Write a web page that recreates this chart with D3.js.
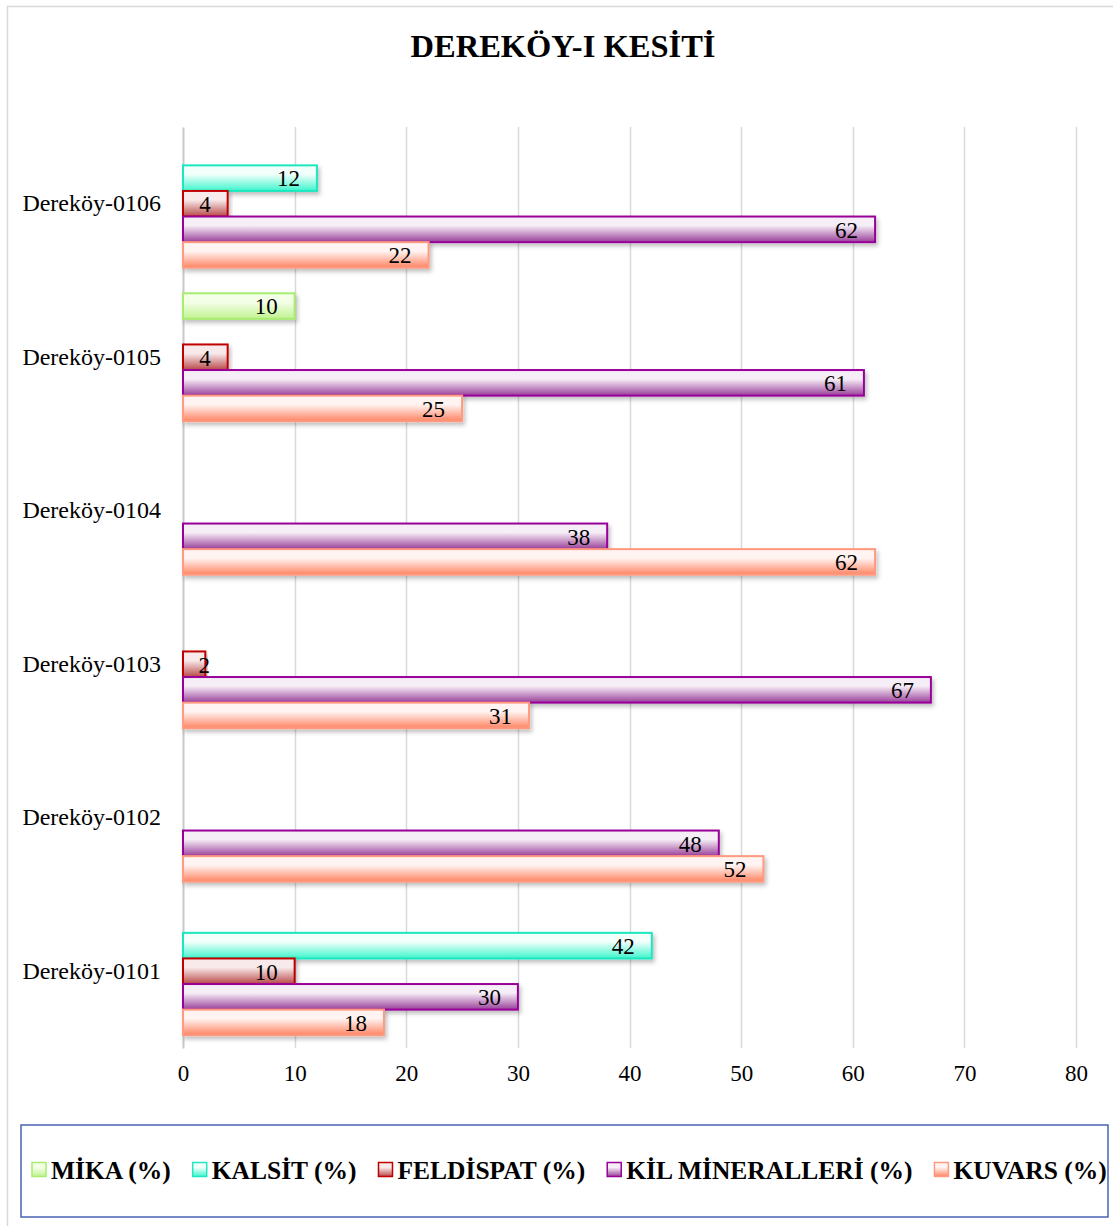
<!DOCTYPE html>
<html>
<head>
<meta charset="utf-8">
<script src="https://cdn.jsdelivr.net/npm/d3@7"></script>
<style>
  body { margin: 0; background: #fff; }
  text { font-family: "Liberation Serif", "Times New Roman", serif; }
</style>
</head>
<body>
<svg id="chart" width="1113" height="1226"></svg>
<script>
const categories = ["Dereköy-0106", "Dereköy-0105", "Dereköy-0104", "Dereköy-0103", "Dereköy-0102", "Dereköy-0101"];
const seriesNames = ["MİKA (%)", "KALSİT (%)", "FELDİSPAT (%)", "KİL MİNERALLERİ (%)", "KUVARS (%)"];
const mika = [null, 10, null, null, null, null];
const kalsit = [12, null, null, null, null, 42];
const feldispat = [4, 4, null, 2, null, 10];
const kil = [62, 61, 38, 67, 48, 30];
const kuvars = [22, 25, 62, 31, 52, 18];
const xTicks = [0, 10, 20, 30, 40, 50, 60, 70, 80];

const seriesValues = [mika, kalsit, feldispat, kil, kuvars];
const seriesColors = [
    { top: "#f4ffe8", bottom: "#bff28f", stroke: "#a8ec70" },
    { top: "#f2fffb", bottom: "#3cf5cc", stroke: "#1ee8c0" },
    { top: "#f8eaea", bottom: "#b94848", stroke: "#c00000" },
    { top: "#f6eef6", bottom: "#9a3f9a", stroke: "#990099" },
    { top: "#fff4f1", bottom: "#ff8463", stroke: "#ff9a80" }
];

const svg = d3.select("#chart");
const defs = svg.append("defs");

seriesColors.forEach((c, i) => {
    const g = defs.append("linearGradient")
        .attr("id", "grad" + i)
        .attr("x1", 0).attr("y1", 0).attr("x2", 0).attr("y2", 1);
    g.append("stop").attr("offset", "0%").attr("stop-color", c.top);
    g.append("stop").attr("offset", "35%").attr("stop-color", c.top);
    g.append("stop").attr("offset", "100%").attr("stop-color", c.bottom);
});

const shadow = defs.append("filter").attr("id", "shadow")
    .attr("x", "-5%").attr("y", "-20%").attr("width", "115%").attr("height", "160%");
shadow.append("feDropShadow")
    .attr("dx", 2).attr("dy", 3).attr("stdDeviation", 2)
    .attr("flood-color", "#000").attr("flood-opacity", 0.25);

// outer chart frame
svg.append("rect")
    .attr("x", 7.5).attr("y", 6.5)
    .attr("width", 1130).attr("height", 1240)
    .attr("fill", "#fff")
    .attr("stroke", "#d9d9d9")
    .attr("stroke-width", 1.5);

svg.append("text")
    .attr("x", 563)
    .attr("y", 57)
    .attr("text-anchor", "middle")
    .attr("font-size", 32.5)
    .attr("font-weight", "bold")
    .text("DEREKÖY-I KESİTİ");

const plotTop = 127, plotBottom = 1048;

const xScale = d3.scaleLinear().domain([0, 80]).range([183, 1076]);

const yScale = d3.scaleBand()
    .domain(categories)
    .range([plotTop, plotBottom])
    .padding(0);

const ySub = d3.scaleBand()
    .domain(seriesNames)
    .range([0, yScale.bandwidth()])
    .paddingInner(0)
    .paddingOuter(0.5);

// gridlines
svg.append("g")
    .selectAll("line")
    .data(xTicks.slice(1))
    .enter()
    .append("line")
    .attr("x1", d => Math.round(xScale(d)) + 0.5)
    .attr("x2", d => Math.round(xScale(d)) + 0.5)
    .attr("y1", plotTop)
    .attr("y2", plotBottom)
    .attr("stroke", "#d9d9d9")
    .attr("stroke-width", 1.5);

// x axis tick labels
const xAxis = svg.append("g")
    .attr("transform", `translate(0,${plotBottom + 9})`)
    .call(d3.axisBottom(xScale).tickValues(xTicks).tickSize(0).tickPadding(8));
xAxis.select(".domain").remove();
xAxis.selectAll("text")
    .attr("font-family", "Liberation Serif, serif")
    .attr("font-size", 23)
    .attr("fill", "#000");

// category labels
const yAxis = svg.append("g")
    .attr("transform", `translate(${xScale(0)},0)`)
    .call(d3.axisLeft(yScale).tickSize(0).tickPadding(22));
yAxis.select(".domain")
    .attr("stroke", "#c8c8c8")
    .attr("stroke-width", 2);
yAxis.selectAll("text")
    .attr("font-family", "Liberation Serif, serif")
    .attr("font-size", 24)
    .attr("fill", "#000");

// bars
const barData = [];
seriesValues.forEach((vals, si) => {
    vals.forEach((v, ci) => {
        if (v !== null) barData.push({ series: si, cat: categories[ci], value: v });
    });
});

const bars = svg.append("g");
bars.selectAll("rect")
    .data(barData)
    .enter()
    .append("rect")
    .attr("x", xScale(0))
    .attr("y", d => yScale(d.cat) + ySub(seriesNames[d.series]))
    .attr("width", d => xScale(d.value) - xScale(0))
    .attr("height", ySub.bandwidth())
    .attr("fill", d => `url(#grad${d.series})`)
    .attr("stroke", d => seriesColors[d.series].stroke)
    .attr("stroke-width", 2)
    .attr("filter", "url(#shadow)");

bars.selectAll("text.label")
    .data(barData)
    .enter()
    .append("text")
    .attr("class", "label")
    .attr("x", d => Math.max(xScale(d.value) - 17, xScale(0) + 27))
    .attr("y", d => yScale(d.cat) + ySub(seriesNames[d.series]) + ySub.bandwidth() / 2)
    .attr("dy", "0.36em")
    .attr("text-anchor", "end")
    .attr("font-size", 23)
    .attr("fill", "#000")
    .text(d => d.value);

// legend
svg.append("rect")
    .attr("x", 21).attr("y", 1125)
    .attr("width", 1087).attr("height", 92)
    .attr("fill", "#fff")
    .attr("stroke", "#4a63b5")
    .attr("stroke-width", 1.5);

const legend = svg.append("g");
const legendItems = legend.selectAll("g")
    .data(seriesNames)
    .enter()
    .append("g");

legendItems.append("rect")
    .attr("width", 14).attr("height", 14)
    .attr("y", -7.5)
    .attr("fill", (d, i) => `url(#grad${i})`)
    .attr("stroke", (d, i) => seriesColors[i].stroke)
    .attr("stroke-width", 1.5);

legendItems.append("text")
    .attr("x", 19)
    .attr("dy", "0.35em")
    .attr("font-size", 25.5)
    .attr("font-weight", "bold")
    .attr("fill", "#000")
    .text(d => d);

const legendGap = 22;
let cursor = 0;
const offsets = [];
legendItems.each(function () {
    const w = 19 + d3.select(this).select("text").node().getComputedTextLength();
    offsets.push(cursor);
    cursor += w + legendGap;
});
const legendStart = 32;
legendItems.attr("transform", (d, i) => `translate(${legendStart + offsets[i]},1170)`);
</script>
</body>
</html>
